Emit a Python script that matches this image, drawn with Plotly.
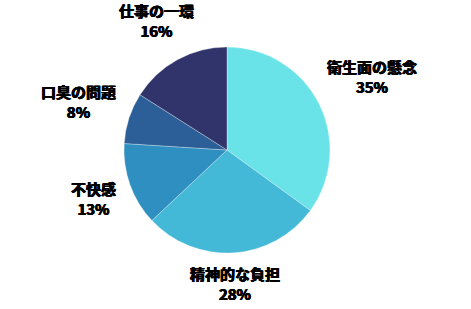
import math
import plotly.graph_objects as go

labels = ["衛生面の懸念", "精神的な負担", "不快感", "口臭の問題", "仕事の一環"]
values = [35, 28, 13, 8, 16]
colors = ["#6ae3e8", "#43b9d7", "#2e8fc0", "#2c5f98", "#30346b"]

W, H = 471, 309
CX, CY, R = 227, 150, 103
FS = 15

fig = go.Figure(go.Pie(
    labels=labels, values=values, sort=False, direction="clockwise", rotation=0,
    marker=dict(colors=colors, line=dict(color="rgba(255,255,255,0.6)", width=0.5)),
    textinfo="none", hoverinfo="label+percent", showlegend=False,
    domain=dict(x=[(CX - R) / W, (CX + R) / W], y=[1 - (CY + R) / H, 1 - (CY - R) / H]),
))

total = sum(values)
cum = 0
annotations = []
for lab, v in zip(labels, values):
    mid = (cum + v / 2) / total * 2 * math.pi
    cum += v
    s, c = math.sin(mid), math.cos(mid)
    halfw = len(lab) * FS / 2
    halfh = 15
    d = R + 13 + abs(s) * halfw + abs(c) * halfh
    px = CX + d * s
    py = CY - d * c
    annotations.append(dict(
        x=px / W, y=1 - py / H, xref="paper", yref="paper",
        text=f"{lab}<br>{round(v / total * 100)}%",
        showarrow=False, xanchor="center", yanchor="middle", align="center",
        font=dict(family="Noto Sans CJK JP", size=FS, color="#000000", weight="bold",
                  shadow="0.5px 0 0 #000, -0.5px 0 0 #000, 0 0.4px 0 #000"),
    ))

fig.update_layout(
    width=W, height=H, margin=dict(l=0, r=0, t=0, b=0),
    paper_bgcolor="white", plot_bgcolor="white",
    annotations=annotations,
)
fig.write_html("out.html")
